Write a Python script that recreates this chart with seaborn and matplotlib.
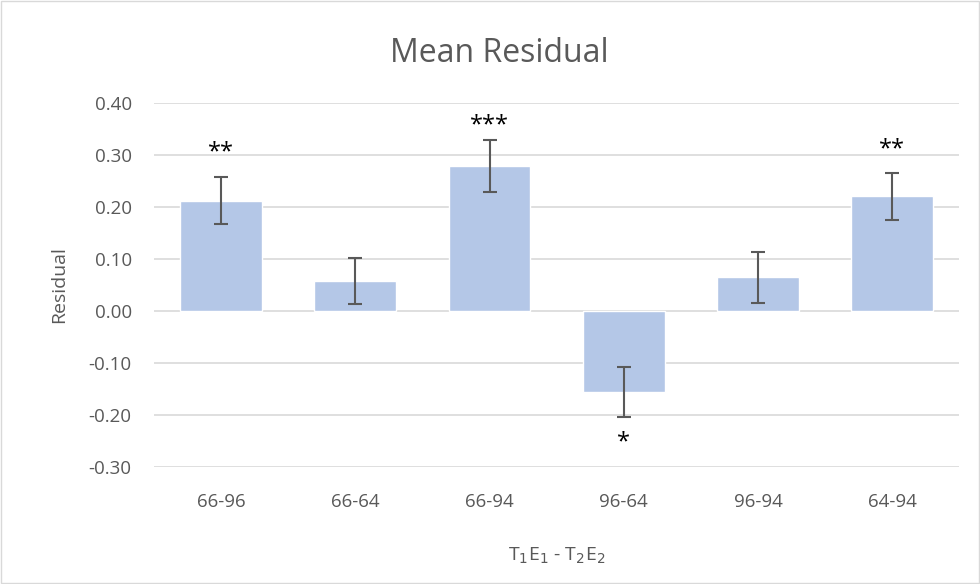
import seaborn as sns
import matplotlib.pyplot as plt
import pandas as pd
import numpy as np

# data
pairs = ["66-96", "66-64", "66-94", "96-64", "96-94", "64-94"]
mean_resid = [0.212, 0.057, 0.279, -0.155, 0.065, 0.220]
err = [0.045, 0.044, 0.050, 0.048, 0.049, 0.045]
stars = ["**", "", "***", "*", "", "**"]
star_y = [0.313, None, 0.365, -0.244, None, 0.319]  # where the stars sit

df = pd.DataFrame({"pair": pairs, "resid": mean_resid})

sns.set_style("white")
plt.rcParams['font.family'] = ['Open Sans', 'DejaVu Sans']
grey = "#595959"

fig = plt.figure(figsize=(9.8, 5.84), dpi=100)
ax = fig.add_axes([0.157, 0.2003, 0.822, 0.6237])

sns.barplot(data=df, x="pair", y="resid", color="#B4C7E7", saturation=1,
            width=0.61, ax=ax, zorder=2)

# error bars on category positions
xpos = np.arange(len(pairs))
ax.errorbar(xpos, mean_resid, yerr=err, fmt="none", ecolor="#595959",
            elinewidth=1.5, capsize=5, capthick=1.5, zorder=3)

# significance stars (glyph centre at star_y)
for x, s, sy in zip(xpos, stars, star_y):
    if not s:
        continue
    ax.annotate(s, (x, sy), xytext=(0, -7.5), textcoords="offset points",
                ha="center", va="baseline", fontsize=17, color="black")

ax.set_ylim(-0.3, 0.4)
ax.set_yticks(np.arange(-0.3, 0.41, 0.1))
ax.yaxis.set_major_formatter(plt.FormatStrFormatter("%.2f"))
ax.set_xlim(-0.5, len(pairs) - 0.5)
ax.grid(axis="y", color="#D9D9D9", linewidth=1.2, zorder=0)
ax.set_axisbelow(True)
for sp in ax.spines.values():
    sp.set_visible(False)
ax.tick_params(axis="both", length=0, labelsize=13.5, colors=grey)
ax.tick_params(axis="x", pad=19)
ax.tick_params(axis="y", pad=16)

fig.text(0.51, 1 - 62 / 584, "Mean Residual", fontsize=23, color=grey,
         ha="center", va="baseline")
ax.set_ylabel("Residual", fontsize=14, color=grey)
ax.yaxis.set_label_coords(-0.107, 0.5)
ax.set_xlabel("T$_1$E$_1$ - T$_2$E$_2$", fontsize=14, color=grey, va="top")
ax.xaxis.set_label_coords(0.5, -0.215)

# light chart-area border like the original
fig.patches.append(plt.Rectangle((0.001, 0.001), 0.998, 0.998, transform=fig.transFigure,
                                 fill=False, edgecolor="#D9D9D9", linewidth=1))

fig.savefig("out.png", dpi=100)
